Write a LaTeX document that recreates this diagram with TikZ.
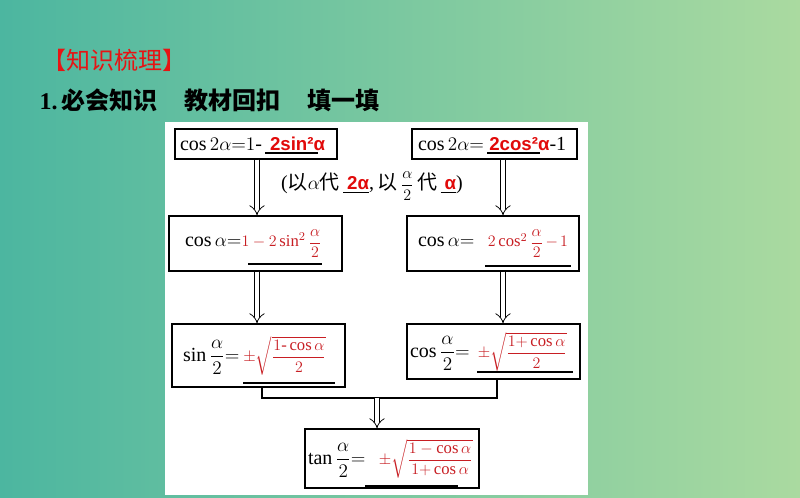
\documentclass[tikz,border=0pt]{standalone}
\usepackage{amsmath}
\usepackage{fontspec}
\setmainfont{Liberation Serif}
\newfontfamily\cjk{Noto Sans CJK SC}
\newfontfamily\ansfont{Liberation Sans}
\usetikzlibrary{arrows.meta}
\definecolor{bgleft}{RGB}{76,182,160}
\definecolor{bgright}{RGB}{170,218,160}
\definecolor{titlered}{RGB}{230,20,20}
\definecolor{ansred}{RGB}{225,10,10}
\definecolor{fillred}{RGB}{200,30,35}
\newcommand{\ansbold}[1]{\textcolor{ansred}{\ansfont\bfseries\fontsize{14}{16}\selectfont #1}}
\newcommand{\ansthin}[1]{\textcolor{fillred}{\fontsize{12.5}{14}\selectfont #1}}

\begin{document}
\begin{tikzpicture}[x=0.75pt,y=-0.75pt,
  box/.style={draw, line width=0.8pt, fill=white, inner ysep=0pt, align=left,
    font=\fontsize{15}{18}\selectfont},
  blank/.style={line width=0.8pt},
  link/.style={line width=0.8pt},
  imp/.style={double, double distance=3.5pt, line width=0.6pt, -{Implies[scale=1.5]}}]
\useasboundingbox (0,0) rectangle (800,498);
\shade[left color=bgleft, right color=bgright] (0,0) rectangle (800,498);
\fill[white] (165,122) rectangle (588,495);

% headings
\node[anchor=west, text=titlered, font=\cjk\fontsize{18}{22}\selectfont] (title) at (38,60) {【知识梳理】};
\node[anchor=west, font=\cjk\bfseries\fontsize{18}{22}\selectfont] (subtitle) at (35,100)
  {{\rmfamily 1.}\,必会知识\hspace{20pt}教材回扣\hspace{20pt}填一填};

% boxes
\node[box, text width=114pt, inner xsep=3.75pt, minimum height=22.5pt] (dblsin) at (256,144)
  {\mbox{$\cos 2\alpha{=}1$-\hspace{6pt}\ansbold{2sin²α}}};
\node[box, text width=114.75pt, inner xsep=4.5pt, minimum height=22.5pt] (dblcos) at (494.5,144)
  {\mbox{$\cos 2\alpha{=}$\hspace{4pt}\ansbold{2cos²α}-1}};
\node[box, text width=105.75pt, inner xsep=12pt, minimum height=41.25pt] (cosl) at (255.5,243.5)
  {$\cos\alpha{=}$\ansthin{$1-2\sin^2\dfrac{\alpha}{2}$}};
\node[box, text width=112.5pt, inner xsep=8.25pt, minimum height=41.25pt] (cosr) at (493,243.5)
  {$\cos\alpha{=}$\hspace{10pt}\ansthin{$2\cos^2\dfrac{\alpha}{2}-1$}};
\node[box, text width=113.25pt, inner xsep=8.25pt, minimum height=47.25pt] (sinhalf) at (258.5,355.5)
  {$\sin\dfrac{\alpha}{2}{=}$\hspace{3pt}\ansthin{$\pm\sqrt{\dfrac{1\text{-}\cos\alpha}{2}}$}};
\node[box, text width=125.25pt, inner xsep=2.25pt, minimum height=41.25pt] (coshalf) at (493.5,351.5)
  {$\cos\dfrac{\alpha}{2}{=}$\hspace{6pt}\ansthin{$\pm\sqrt{\dfrac{1{+}\cos\alpha}{2}}$}};
\node[box, text width=126pt, inner xsep=2.25pt, minimum height=44.25pt] (tanhalf) at (392,458.5)
  {$\tan\dfrac{\alpha}{2}{=}$\hspace{10pt}\ansthin{$\pm\sqrt{\dfrac{1-\cos\alpha}{1{+}\cos\alpha}}$}};

% hint between the arrows
\node[font=\fontsize{15}{18}\selectfont] (hint) at (372,186)
  {({\cjk 以}$\alpha${\cjk 代}\,\underline{\hspace{3pt}\ansbold{2α}},\,{\cjk 以}\,{\fontsize{12}{14}\selectfont$\dfrac{\alpha}{2}$}\,{\cjk 代}\,\underline{\hspace{3pt}\ansbold{α}})};

% blanks
\draw[blank] (265,153) -- (318,153);
\draw[blank] (487,153) -- (540,153);
\draw[blank] (248,264) -- (322,264);
\draw[blank] (485,266) -- (571,266);
\draw[blank] (243,383) -- (335,383);
\draw[blank] (477,372) -- (573,372);
\draw[blank] (365,486) -- (458,486);

% arrows
\coordinate (colL) at (257,0);
\coordinate (colR) at (503,0);
\coordinate (legL) at (262,0);
\coordinate (legR) at (497,0);
\coordinate (join) at (377,398);
\draw[imp] (dblsin.south -| colL) -- (cosl.north -| colL);
\draw[imp] (dblcos.south -| colR) -- (cosr.north -| colR);
\draw[imp] (cosl.south -| colL) -- (sinhalf.north -| colL);
\draw[imp] (cosr.south -| colR) -- (coshalf.north -| colR);
\draw[link] (sinhalf.south -| legL) |- (join) -| (coshalf.south -| legR);
\draw[imp] (join) -- (tanhalf.north -| join);
\end{tikzpicture}
\end{document}
